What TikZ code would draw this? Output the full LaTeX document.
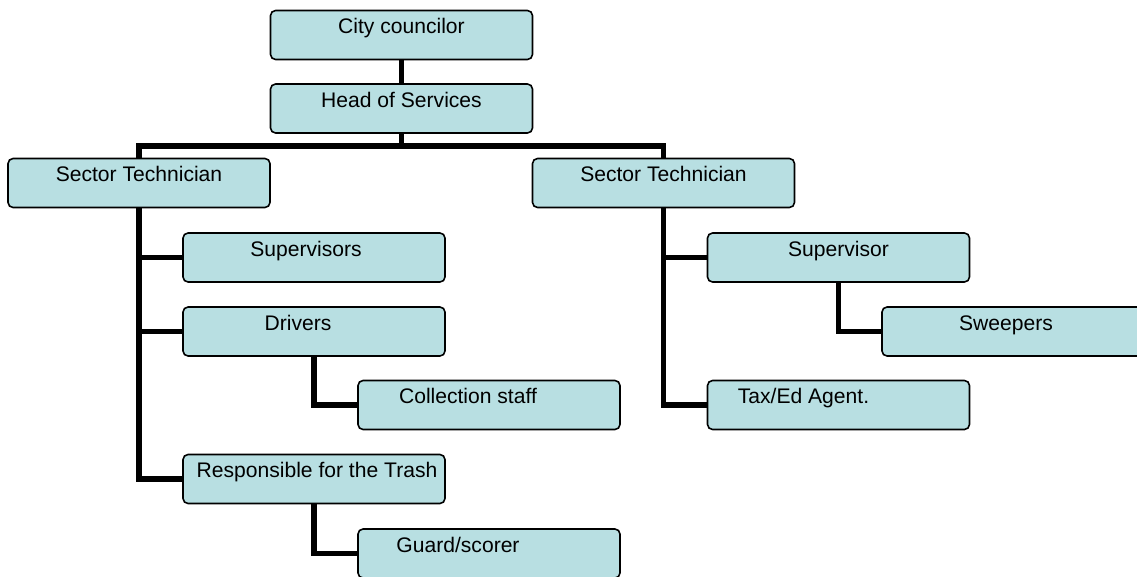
\documentclass[tikz,border=0pt]{standalone}
\usepackage{fontspec}
\setmainfont{Liberation Sans}
\usepackage{tikz}
\definecolor{ocfill}{RGB}{184,223,226}
\newcommand{\txtshift}[2]{\hspace*{#1}#2\hspace*{-#1}}
\tikzset{
  ocbox/.style={draw=black, fill=ocfill, rounded corners=0.1cm, line width=0.9pt,
    minimum width=5.24cm, minimum height=0.98cm, inner sep=0pt,
    text height=0.46cm, text depth=0.52cm,
    font=\fontsize{12}{14}\selectfont},
  ocline/.style={line width=3pt, draw=black}
}
\begin{document}
\begin{tikzpicture}[x=0.02cm, y=-0.02cm]
  \clip (0,0) rectangle (1137,576);
  \node[ocbox] (cc) at (401.5,35) {City councilor};
  \node[ocbox] (hs) at (401.5,108.5) {Head of Services};
  \node[ocbox] (stL) at (139,183) {Sector Technician};
  \node[ocbox] (stR) at (663.5,183) {Sector Technician};
  \node[ocbox] (sups) at (314,257.5) {\txtshift{-0.16cm}{Supervisors}};
  \node[ocbox] (drv) at (314,331.5) {\txtshift{-0.32cm}{Drivers}};
  \node[ocbox] (coll) at (489,405) {\txtshift{-0.42cm}{Collection staff}};
  \node[ocbox] (resp) at (314,479) {\txtshift{0.06cm}{Responsible for the Trash}};
  \node[ocbox] (grd) at (489,553.5) {\txtshift{-0.62cm}{Guard/scorer}};
  \node[ocbox] (sup) at (838.5,257.5) {Supervisor};
  \node[ocbox] (swp) at (1013,331.5) {\txtshift{-0.14cm}{Sweepers}};
  \node[ocbox] (tax) at (838.5,405) {\txtshift{-0.7cm}{Tax/Ed Agent.}};
  \coordinate (bus) at (0,146);
  % top of the chart
  \draw[ocline] (cc) -- (hs);
  \draw[ocline] (hs.south) -- (hs.south |- bus);
  \draw[ocline] (stL.north) |- (stR.north |- bus) -- (stR.north);
  % left branch
  \draw[ocline] (stL.south) |- (resp.west);
  \draw[ocline] (stL.south |- sups.west) -- (sups.west);
  \draw[ocline] (stL.south |- drv.west) -- (drv.west);
  \draw[ocline] (drv.south) |- (coll.west);
  \draw[ocline] (resp.south) |- (grd.west);
  % right branch
  \draw[ocline] (stR.south) |- (tax.west);
  \draw[ocline] (stR.south |- sup.west) -- (sup.west);
  \draw[ocline] (sup.south) |- (swp.west);
\end{tikzpicture}
\end{document}
